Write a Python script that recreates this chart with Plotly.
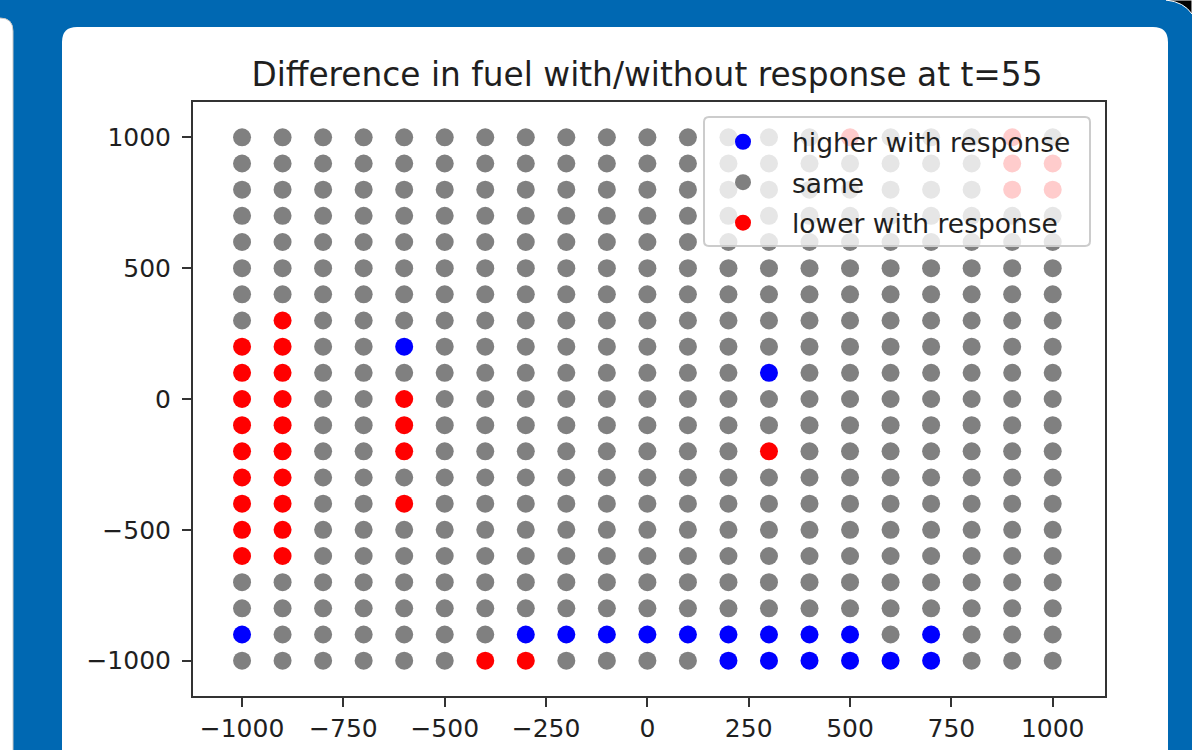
import plotly.graph_objects as go

# ---- data ----
grid_x = [-1000, -900, -800, -700, -600, -500, -400, -300, -200, -100, 0,
          100, 200, 300, 400, 500, 600, 700, 800, 900, 1000]
grid_y = [-1000, -900, -800, -700, -600, -500, -400, -300, -200, -100, 0,
          100, 200, 300, 400, 500, 600, 700, 800, 900, 1000]

higher_x = [-600, 300, -1000, -300, -200, -100, 0, 100, 200, 300, 400, 500, 700,
            200, 300, 400, 500, 600, 700]
higher_y = [200, 100, -900, -900, -900, -900, -900, -900, -900, -900, -900, -900, -900,
            -1000, -1000, -1000, -1000, -1000, -1000]

lower_x = [-1000, -1000, -1000, -1000, -1000, -1000, -1000, -1000, -1000,
           -900, -900, -900, -900, -900, -900, -900, -900, -900, -900,
           -600, -600, -600, -600, 300, -400, -300,
           500, 900, 900, 1000, 900, 1000]
lower_y = [200, 100, 0, -100, -200, -300, -400, -500, -600,
           300, 200, 100, 0, -100, -200, -300, -400, -500, -600,
           0, -100, -200, -400, -200, -1000, -1000,
           1000, 1000, 900, 900, 800, 800]

x_ticks = [-1000, -750, -500, -250, 0, 250, 500, 750, 1000]
x_ticktext = ["\u22121000", "\u2212750", "\u2212500", "\u2212250", "0", "250", "500", "750", "1000"]
y_ticks = [-1000, -500, 0, 500, 1000]
y_ticktext = ["\u22121000", "\u2212500", "0", "500", "1000"]

title_text = "Difference in fuel with/without response at t=55"
labels = ["higher with response", "same", "lower with response"]

# derive 'same' points as the grid cells not in higher/lower
special = set(zip(higher_x, higher_y)) | set(zip(lower_x, lower_y))
same_x, same_y = [], []
for gx in grid_x:
    for gy in grid_y:
        if (gx, gy) not in special:
            same_x.append(gx)
            same_y.append(gy)

# ---- layout geometry ----
W, H = 1192, 750
L, T, PW, PH = 193, 102, 912, 594


def px(xp):
    return (xp - L) / PW


def py(yp):
    return (T + PH - yp) / PH


def rrect(x0, y0, x1, y1, r):
    # rounded rectangle path in paper coordinates from pixel coords
    pts = [
        ("M", (x0 + r, y0)), ("L", (x1 - r, y0)), ("Q", (x1, y0), (x1, y0 + r)),
        ("L", (x1, y1 - r)), ("Q", (x1, y1), (x1 - r, y1)), ("L", (x0 + r, y1)),
        ("Q", (x0, y1), (x0, y1 - r)), ("L", (x0, y0 + r)), ("Q", (x0, y0), (x0 + r, y0)),
    ]
    s = ""
    for p in pts:
        cmd = p[0]
        coords = " ".join(f"{px(a):.5f},{py(b):.5f}" for a, b in p[1:])
        s += f"{cmd} {coords} "
    return s + "Z"


blue_bg = "#0068b2"
text_col = "#1f1f1f"
font = "DejaVu Sans"
msize = 18

fig = go.Figure()

fig.add_trace(go.Scatter(x=higher_x, y=higher_y, mode="markers", name=labels[0],
                         legendgroup="a",
                         marker=dict(color="#0000ff", size=msize, line=dict(width=0))))
fig.add_trace(go.Scatter(x=same_x, y=same_y, mode="markers", name=labels[1],
                         legendgroup="b",
                         marker=dict(color="#808080", size=msize, line=dict(width=0))))
fig.add_trace(go.Scatter(x=lower_x, y=lower_y, mode="markers", name=labels[2],
                         legendgroup="c",
                         marker=dict(color="#ff0000", size=msize, line=dict(width=0))))

shapes = [
    # left neighbouring card
    dict(type="path", xref="paper", yref="paper", layer="below",
         path=rrect(-30, 18, 13, 800, 13),
         fillcolor="white", line=dict(color="#c8c8c8", width=1)),
    # main card
    dict(type="path", xref="paper", yref="paper", layer="below",
         path=rrect(62, 27, 1168, 800, 15),
         fillcolor="white", line=dict(width=0)),
    # dark top-right corner
    dict(type="path", xref="paper", yref="paper", layer="below",
         path=f"M {px(1166):.5f},{py(0):.5f} L {px(1192):.5f},{py(0):.5f} L {px(1192):.5f},{py(14):.5f} "
              f"Q {px(1184):.5f},{py(2):.5f} {px(1166):.5f},{py(0):.5f} Z",
         fillcolor="black", line=dict(color="white", width=1)),
    # legend frame (semi-transparent, above markers)
    dict(type="path", xref="paper", yref="paper", layer="above",
         path=rrect(704, 117, 1090, 246, 5),
         fillcolor="rgba(255,255,255,0.8)", line=dict(color="#cccccc", width=2)),
]

fig.update_layout(
    width=W, height=H,
    margin=dict(l=L, r=W - L - PW, t=T, b=H - T - PH, autoexpand=False),
    paper_bgcolor=blue_bg,
    plot_bgcolor="white",
    font=dict(family=font, color=text_col, size=25),
    title=dict(text=title_text, x=px(647), xref="paper", xanchor="center",
               y=1 - 75 / H, yref="container", yanchor="middle",
               font=dict(family=font, size=32.8, color=text_col)),
    showlegend=True,
    legend=dict(
        x=px(694), y=py(118), xanchor="left", yanchor="top",
        bgcolor="rgba(0,0,0,0)", borderwidth=0,
        font=dict(family=font, size=26.5, color=text_col),
        itemwidth=88, tracegroupgap=3, traceorder="grouped",
        itemclick=False,
    ),
    shapes=shapes,
)

fig.update_xaxes(
    range=[-1121, 1129], showgrid=False, zeroline=False,
    tickmode="array", tickvals=x_ticks, ticktext=x_ticktext,
    ticks="outside", ticklen=9, tickwidth=2, tickcolor="#333333",
    showline=True, linecolor="#333333", linewidth=2, mirror=True,
    tickfont=dict(family=font, size=25, color=text_col),
)
fig.update_yaxes(
    range=[-1135, 1135], showgrid=False, zeroline=False,
    tickmode="array", tickvals=y_ticks, ticktext=y_ticktext,
    ticks="outside", ticklen=9, tickwidth=2, tickcolor="#333333",
    showline=True, linecolor="#333333", linewidth=2, mirror=True,
    ticklabelstandoff=6,
    tickfont=dict(family=font, size=25, color=text_col),
)

fig.write_html(
    "out.html",
    config={"displayModeBar": False},
    post_script="document.body.style.margin='0px'; document.body.style.overflow='hidden';",
)
